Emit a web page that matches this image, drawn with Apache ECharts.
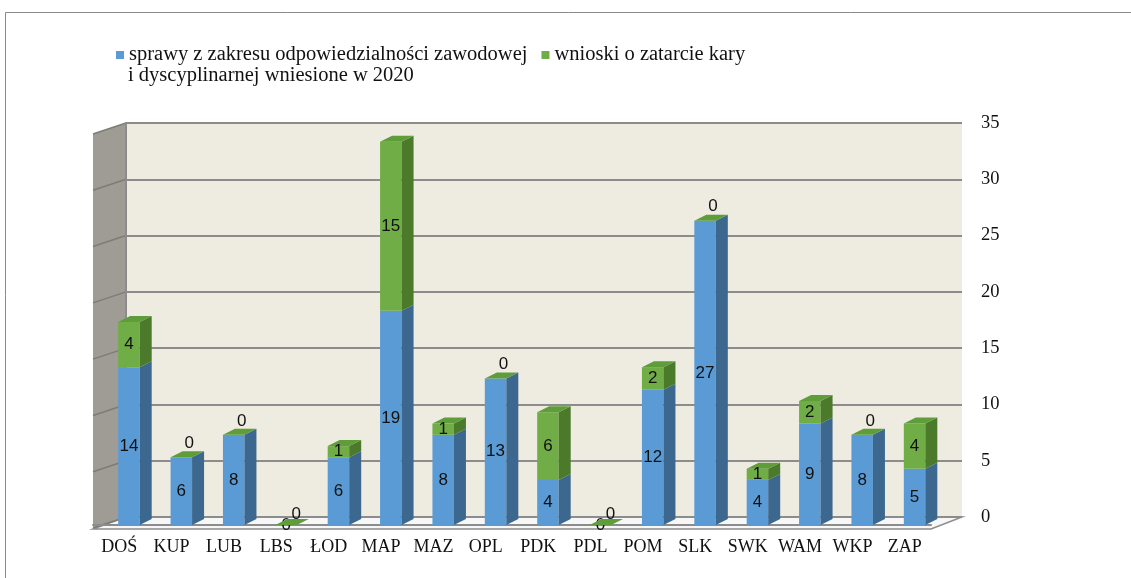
<!DOCTYPE html>
<html>
<head>
<meta charset="utf-8">
<script src="https://cdn.jsdelivr.net/npm/echarts@6/dist/echarts.min.js"></script>
<style>html,body{margin:0;padding:0;background:#fff}#c{width:1131px;height:578px}</style>
</head>
<body>
<div id="c"></div>
<script>
const categories = ['DOŚ','KUP','LUB','LBS','ŁOD','MAP','MAZ','OPL','PDK','PDL','POM','SLK','SWK','WAM','WKP','ZAP'];
const sprawy = [14,6,8,0,6,19,8,13,4,0,12,27,4,9,8,5];
const wnioski = [4,0,0,0,1,15,1,0,6,0,2,0,1,2,0,4];
const yMin = 0, yMax = 35, yStep = 5;
const nameSprawy = 'sprawy z zakresu odpowiedzialności zawodowej\ni dyscyplinarnej wniesione w 2020';
const nameWnioski = 'wnioski o zatarcie kary';

const C = {
  blueFront: '#5B9BD5', blueSide: '#3C6890',
  greenFront: '#70AD47', greenSide: '#4B7A2B', greenTop: '#5F9D3A',
  wall: '#EEEBE1', sideWall: '#9E9C95', grid: '#8C8C8C', floor: '#F7F7F7'
};
const W = 21.5, DX = 12, DY = -6, OFF = -1;
const labelFont = { fontFamily: 'Liberation Sans', fontSize: 17, fill: '#111' };
const legendFont = { fontFamily: 'Liberation Serif', fontSize: 20.5 };

function box(x0, yTop, yBot, front, side) {
  return [
    { type: 'rect', shape: { x: x0, y: yTop, width: W, height: yBot - yTop }, style: { fill: front } },
    { type: 'polygon', shape: { points: [[x0 + W, yTop], [x0 + W + DX, yTop + DY], [x0 + W + DX, yBot + DY], [x0 + W, yBot]] }, style: { fill: side } }
  ];
}
function txt(x, y, s) {
  return { type: 'text', x: x, y: y, style: Object.assign({ text: String(s), align: 'center', verticalAlign: 'middle' }, labelFont), z2: 10 };
}

function renderBlue(params, api) {
  const i = api.value(0), v = api.value(1);
  const p0 = api.coord([i, 0]), p1 = api.coord([i, v]);
  const x0 = p0[0] + OFF;
  const children = [];
  if (v > 0) {
    children.push(...box(x0, p1[1], p0[1], C.blueFront, C.blueSide));
    children.push(txt(x0 + W / 2, (p0[1] + p1[1]) / 2, v));
  } else {
    children.push(txt(x0 + 11, p0[1], v));
  }
  return { type: 'group', children: children };
}
function renderGreen(params, api) {
  const i = api.value(0), b = api.value(1), g = api.value(2);
  const pb = api.coord([i, b]), pe = api.coord([i, b + g]);
  const x0 = pb[0] + OFF;
  const children = [];
  if (g > 0) children.push(...box(x0, pe[1], pb[1], C.greenFront, C.greenSide));
  children.push({ type: 'polygon', shape: { points: [[x0, pe[1]], [x0 + W, pe[1]], [x0 + W + DX, pe[1] + DY], [x0 + DX, pe[1] + DY]] }, style: { fill: C.greenTop } });
  if (g > 0) children.push(txt(x0 + W / 2, (pb[1] + pe[1]) / 2, g));
  else if (b > 0) children.push(txt(x0 + W / 2 + 8, pe[1] - 14, g));
  else children.push(txt(x0 + 21, pe[1] - 11, g));
  return { type: 'group', children: children };
}

const chart = echarts.init(document.getElementById('c'), null, { renderer: 'canvas' });
const option = {
  animation: false,
  backgroundColor: '#fff',
  legend: {
    left: 111, top: 39,
    icon: 'rect', itemWidth: 8, itemHeight: 8, itemGap: 14,
    textStyle: Object.assign({ color: '#111', lineHeight: 22 }, legendFont),
    formatter: name => name.split('\n')[0],
    data: [nameSprawy, nameWnioski],
    selectedMode: false
  },
  grid: [
    { left: 126, right: 169, top: 123, bottom: 61, show: true, backgroundColor: C.wall, borderWidth: 0 },
    { left: 93, right: 200, top: 130.5, bottom: 53, show: false }
  ],
  xAxis: [
    { gridIndex: 0, type: 'value', min: 0, max: 1, show: false },
    { gridIndex: 1, type: 'category', data: categories, offset: 4,
      axisLine: { lineStyle: { color: C.grid, width: 2 } },
      axisTick: { length: 5, lineStyle: { color: C.grid, width: 1 } },
      axisLabel: { interval: 0, hideOverlap: false, fontFamily: 'Liberation Serif', fontSize: 18, color: '#111', margin: 9 },
      splitLine: { show: false } }
  ],
  yAxis: [
    { gridIndex: 0, type: 'value', min: yMin, max: yMax, interval: yStep, position: 'right',
      axisLine: { show: true, lineStyle: { color: C.grid, width: 2 } },
      axisTick: { show: true, length: 7, lineStyle: { color: C.grid, width: 1 } },
      axisLabel: { fontFamily: 'Liberation Serif', fontSize: 18.5, color: '#111', margin: 19 },
      splitLine: { show: true, lineStyle: { color: C.grid, width: 2 } } },
    { gridIndex: 1, type: 'value', min: yMin, max: yMax, interval: yStep, show: false, splitLine: { show: false } }
  ],
  series: [
    { name: nameSprawy, type: 'custom', xAxisIndex: 1, yAxisIndex: 1, color: C.blueFront,
      renderItem: renderBlue, encode: { x: 0, y: 1 }, z: 3,
      data: categories.map((c, i) => [i, sprawy[i]]) },
    { name: nameWnioski, type: 'custom', xAxisIndex: 1, yAxisIndex: 1, color: C.greenFront,
      renderItem: renderGreen, encode: { x: 0, y: 1 }, z: 4,
      data: categories.map((c, i) => [i, sprawy[i], wnioski[i]]) }
  ]
};
chart.setOption(option);

// 3D walls & floor derived from the grid coordinates
const ticks = [];
for (let v = yMin; v <= yMax; v += yStep) ticks.push(v);
const px0 = (x, y) => chart.convertToPixel({ xAxisIndex: 0, yAxisIndex: 0 }, [x, y]);
const px1 = (i, y) => chart.convertToPixel({ xAxisIndex: 1, yAxisIndex: 1 }, [i, y]);
const bl = px0(0, yMin), tl = px0(0, yMax), br = px0(1, yMin);
const c0 = px1(0, yMin), c1 = px1(1, yMin), cN = px1(categories.length - 1, yMin);
const band = c1[0] - c0[0];
const frontLeft = c0[0] - band / 2, frontRight = cN[0] + band / 2, frontY = c0[1] + 4;
const fdx = frontLeft - bl[0], fdy = 11;
const graphics = [
  { type: 'rect', shape: { x: 5.5, y: 12.5, width: 1300, height: 800 }, style: { fill: null, stroke: '#8A8A8A', lineWidth: 1 }, silent: true, z: -10 },
  { type: 'polygon', shape: { points: [[bl[0], bl[1]], [br[0], br[1]], [frontRight, frontY], [frontLeft, frontY]] }, style: { fill: C.floor, stroke: C.grid, lineWidth: 1.5 }, z: -1 },
  { type: 'polygon', shape: { points: [[tl[0] + fdx, tl[1] + fdy], [tl[0], tl[1]], [bl[0], bl[1]], [frontLeft, frontY]] }, style: { fill: C.sideWall }, z: -1 },
  // second line of the first legend entry
  { type: 'text', x: 128, y: 76, style: Object.assign({ text: nameSprawy.split('\n')[1], fill: '#111', verticalAlign: 'middle', align: 'left' }, legendFont) }
];
ticks.forEach(v => {
  const p = px0(0, v);
  graphics.push({ type: 'line', shape: { x1: p[0], y1: p[1], x2: p[0] + fdx, y2: p[1] + fdy }, style: { stroke: '#7E7C77', lineWidth: 1.5 }, z: -1 });
});
chart.setOption({ graphic: graphics });
</script>
</body>
</html>
